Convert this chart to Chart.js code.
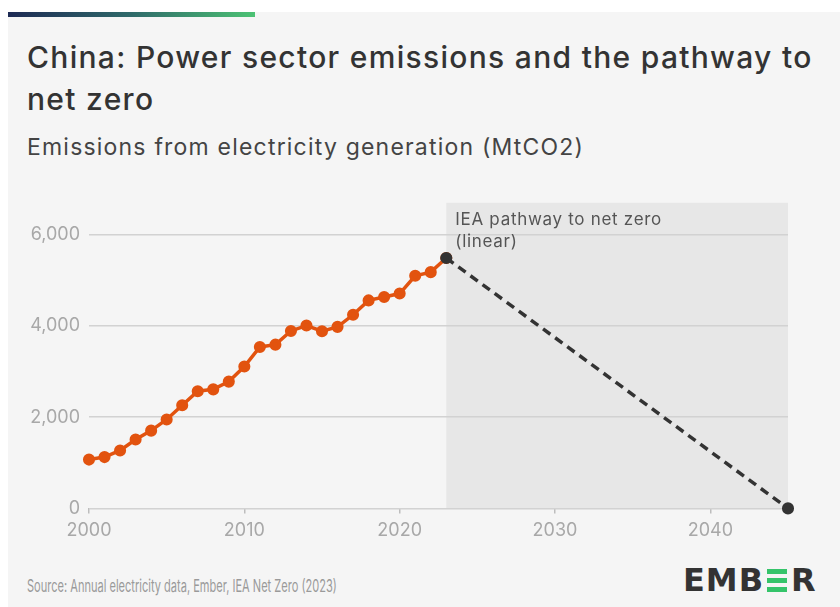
<!DOCTYPE html>
<html>
<head>
<meta charset="utf-8">
<script src="https://cdn.jsdelivr.net/npm/chart.js@4.4.1/dist/chart.umd.min.js"></script>
<style>
  html, body { margin: 0; padding: 0; background: #fff; }
  body { width: 840px; height: 607px; position: relative; overflow: hidden; font-family: Inter, "Noto Sans", sans-serif; }
  .card { position: absolute; left: 8px; top: 12px; right: 0; bottom: 0; background: #f5f5f5; }
  .topbar { position: absolute; left: 8px; top: 12px; width: 247px; height: 5px; background: linear-gradient(90deg, #1d2a54, #2f6a6a 50%, #4cc274); }
  .title { position: absolute; left: 27px; top: 36px; font-size: 30px; line-height: 42px; color: #333; font-weight: 500; letter-spacing: 1.3px; white-space: nowrap; }
  .subtitle { position: absolute; left: 27px; top: 133px; font-size: 23px; color: #444; letter-spacing: 1.2px; white-space: nowrap; }
  .source { position: absolute; left: 27px; top: 576px; font-size: 17px; color: #9a9a9a; white-space: nowrap; transform-origin: left center; }
  .logo { position: absolute; left: 683px; top: 561px; font-family: "DejaVu Sans", sans-serif; font-weight: bold; font-size: 32px; color: #333; letter-spacing: 1px; display: flex; align-items: center; }
  .bars { display: inline-flex; flex-direction: column; justify-content: space-between; width: 20px; height: 23px; margin: 0 4px 0 3px; }
  .bars div { height: 5px; background: #35c46a; }
  #wrap { position: absolute; left: 0; top: 183px; width: 840px; height: 376px; }
</style>
</head>
<body>
<div class="card"></div>
<div class="topbar"></div>
<div class="title">China: Power sector emissions and the pathway to<br>net zero</div>
<div class="subtitle">Emissions from electricity generation (MtCO2)</div>
<div id="wrap"><canvas id="EmissionsChart"></canvas></div>
<div class="source" id="source">Source: Annual electricity data, Ember, IEA Net Zero (2023)</div>
<div class="logo"><span>EMB</span><span class="bars"><div></div><div></div><div></div></span><span>R</span></div>
<script>
// historical emissions, MtCO2
const Years = [2000, 2001, 2002, 2003, 2004, 2005, 2006, 2007, 2008, 2009, 2010, 2011,
    2012, 2013, 2014, 2015, 2016, 2017, 2018, 2019, 2020, 2021, 2022, 2023];
const Emissions = [1070, 1125, 1270, 1510, 1705, 1950, 2260, 2570, 2610, 2780, 3110, 3540,
    3590, 3890, 4010, 3885, 3980, 4245, 4560, 4635, 4710, 5100, 5180, 5490];

// IEA net zero pathway (linear)
const PathwayYears = [2023, 2045];
const PathwayValues = [5490, 0];

const YTicks = [0, 2000, 4000, 6000];
const XTicks = [2000, 2010, 2020, 2030, 2040];
const PathwayLabel = ["IEA pathway to net zero", "(linear)"];

const FontFamily = "Inter, 'Noto Sans', sans-serif";

// squeeze the source line, it is a condensed face in the original
const SourceEl = document.getElementById("source");
SourceEl.style.transform = "scaleX(" + (310 / SourceEl.offsetWidth) + ")";

const PathwayShade = {
    id: "pathwayShade",
    beforeDraw(chart) {
        const ctx = chart.ctx;
        const x = chart.scales.x;
        const area = chart.chartArea;
        const left = x.getPixelForValue(PathwayYears[0]);
        const right = x.getPixelForValue(PathwayYears[1]);
        ctx.save();
        ctx.fillStyle = "#e7e7e7";
        ctx.fillRect(left, area.top, right - left, area.bottom - area.top);
        ctx.restore();
    },
    afterDraw(chart) {
        const ctx = chart.ctx;
        const left = chart.scales.x.getPixelForValue(PathwayYears[0]);
        ctx.save();
        ctx.fillStyle = "#555";
        ctx.font = "17px " + FontFamily;
        ctx.letterSpacing = "0.7px";
        ctx.textBaseline = "alphabetic";
        PathwayLabel.forEach(function (line, i) {
            ctx.fillText(line, left + 9, chart.chartArea.top + 22 + i * 22);
        });
        ctx.restore();
    }
};

const ChartElement = document.getElementById("EmissionsChart").getContext("2d");
const EmissionsChart = new Chart(ChartElement, {
    type: "line",
    data: {
        datasets: [{
            label: "Emissions",
            data: Years.map((y, i) => ({ x: y, y: Emissions[i] })),
            borderColor: "#e2530f",
            backgroundColor: "#e2530f",
            borderWidth: 3.5,
            pointRadius: 4.3,
            pointHoverRadius: 4.3,
            tension: 0,
            order: 2
        }, {
            label: "Pathway",
            data: PathwayYears.map((y, i) => ({ x: y, y: PathwayValues[i] })),
            borderColor: "#333",
            backgroundColor: "#333",
            borderWidth: 3.5,
            borderDash: [9, 6],
            pointRadius: 4.3,
            pointHoverRadius: 4.3,
            order: 1
        }]
    },
    options: {
        responsive: true,
        maintainAspectRatio: false,
        animation: false,
        clip: false,
        layout: { padding: { left: 27, right: 52, top: 13, bottom: 12 } },
        plugins: { legend: { display: false }, tooltip: { enabled: false } },
        scales: {
            x: {
                type: "linear",
                min: 2000,
                max: 2045,
                afterBuildTicks: (scale) => { scale.ticks = XTicks.map(v => ({ value: v })); },
                ticks: {
                    callback: v => String(v),
                    color: "#a8a8a8",
                    font: { family: FontFamily, size: 18 },
                    padding: 6,
                    maxRotation: 0
                },
                grid: { drawOnChartArea: false, drawTicks: true, tickLength: 5, color: "#bdbdbd", lineWidth: 1.5 },
                border: { display: false }
            },
            y: {
                min: 0,
                max: 6700,
                afterBuildTicks: (scale) => { scale.ticks = YTicks.map(v => ({ value: v })); },
                afterFit: (scale) => { scale.width = 62; },
                ticks: {
                    callback: v => v.toLocaleString("en-US"),
                    color: "#a8a8a8",
                    font: { family: FontFamily, size: 18 },
                    padding: 9
                },
                grid: { drawTicks: false, color: "#d2d2d2", lineWidth: 1.5 },
                border: { display: false }
            }
        }
    },
    plugins: [PathwayShade]
});
</script>
</body>
</html>
